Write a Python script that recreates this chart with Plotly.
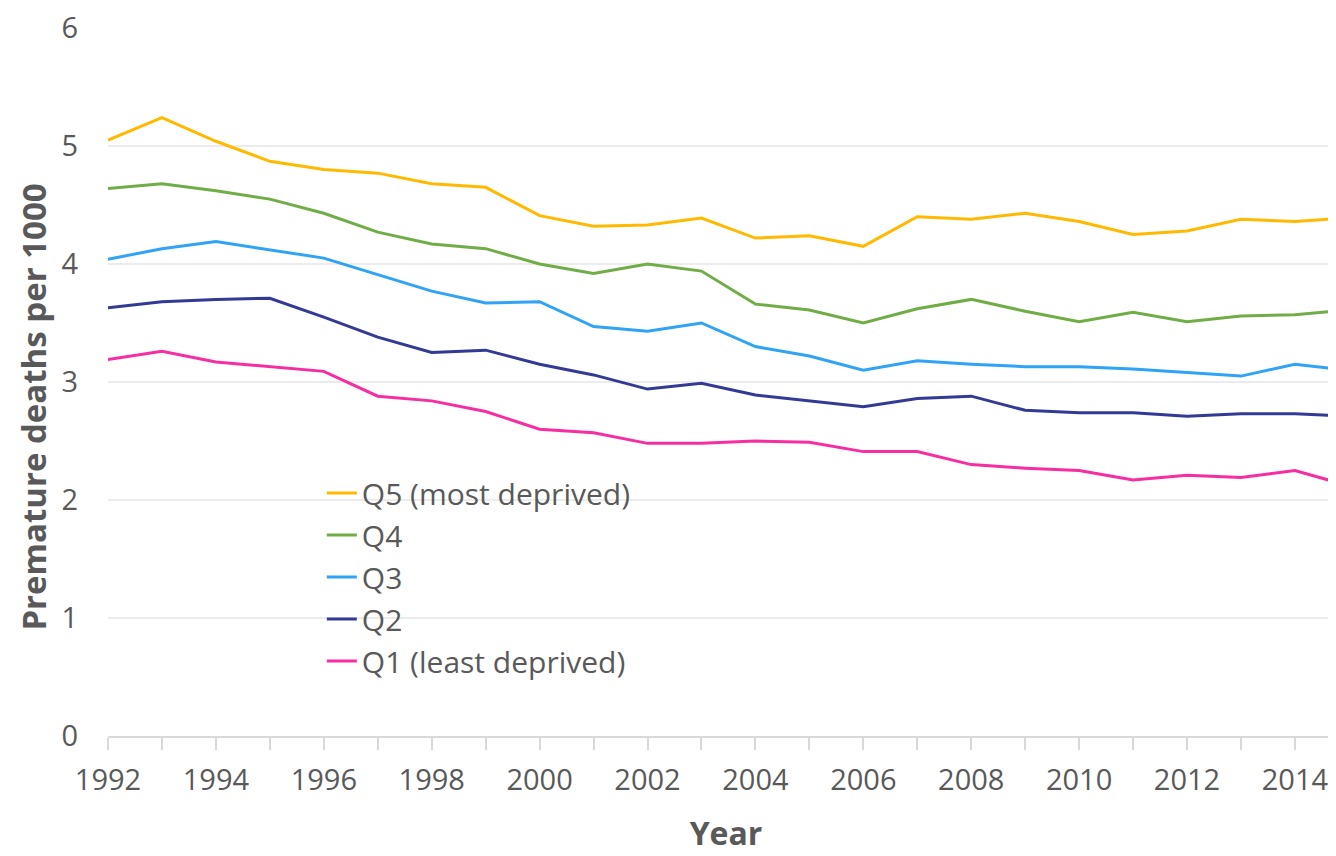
import plotly.graph_objects as go

years = list(range(1992, 2016))

q5 = [5.05, 5.24, 5.04, 4.87, 4.80, 4.77, 4.68, 4.65, 4.41, 4.32, 4.33, 4.39,
      4.22, 4.24, 4.15, 4.40, 4.38, 4.43, 4.36, 4.25, 4.28, 4.38, 4.36, 4.39]
q4 = [4.64, 4.68, 4.62, 4.55, 4.43, 4.27, 4.17, 4.13, 4.00, 3.92, 4.00, 3.94,
      3.66, 3.61, 3.50, 3.62, 3.70, 3.60, 3.51, 3.59, 3.51, 3.56, 3.57, 3.61]
q3 = [4.04, 4.13, 4.19, 4.12, 4.05, 3.91, 3.77, 3.67, 3.68, 3.47, 3.43, 3.50,
      3.30, 3.22, 3.10, 3.18, 3.15, 3.13, 3.13, 3.11, 3.08, 3.05, 3.15, 3.10]
q2 = [3.63, 3.68, 3.70, 3.71, 3.55, 3.38, 3.25, 3.27, 3.15, 3.06, 2.94, 2.99,
      2.89, 2.84, 2.79, 2.86, 2.88, 2.76, 2.74, 2.74, 2.71, 2.73, 2.73, 2.71]
q1 = [3.19, 3.26, 3.17, 3.13, 3.09, 2.88, 2.84, 2.75, 2.60, 2.57, 2.48, 2.48,
      2.50, 2.49, 2.41, 2.41, 2.30, 2.27, 2.25, 2.17, 2.21, 2.19, 2.25, 2.12]

series = [
    ("Q5 (most deprived)", q5, "#FFB901"),
    ("Q4", q4, "#70AD47"),
    ("Q3", q3, "#2FA3F6"),
    ("Q2", q2, "#333A96"),
    ("Q1 (least deprived)", q1, "#F72DA2"),
]

fig = go.Figure()
for name, vals, col in series:
    fig.add_trace(go.Scatter(x=years, y=vals, name=name, mode="lines",
                             line=dict(color=col, width=3)))

grey = "#595959"
# page has an 8px body margin, so margins are offset by 8
fig.update_layout(
    width=1336, height=856,
    plot_bgcolor="white", paper_bgcolor="white",
    margin=dict(l=100, r=0, t=20, b=128),
    font=dict(family="Open Sans, sans-serif", color=grey, size=29),
    legend=dict(x=0.173, y=0.38, xanchor="left", yanchor="top",
                bgcolor="rgba(0,0,0,0)", font=dict(size=30, color=grey),
                tracegroupgap=0),
    annotations=[dict(text="<b>Premature deaths per 1000</b>", textangle=-90,
                      xref="paper", yref="paper", x=-0.06, y=0.465,
                      xanchor="center", yanchor="middle", showarrow=False,
                      font=dict(size=33, color=grey))],
)
fig.update_xaxes(
    range=[1992, 2014.91], dtick=2, tick0=1992,
    automargin=False,
    showgrid=False, zeroline=False,
    showline=True, linecolor="#d9d9d9", linewidth=2,
    ticks="outside", ticklen=12, tickcolor="#d9d9d9", tickwidth=1.5,
    minor=dict(dtick=1, tick0=1992, ticks="outside", ticklen=12,
               tickcolor="#d9d9d9", tickwidth=1.5, showgrid=False),
    tickfont=dict(size=29, color=grey), ticklabelstandoff=5,
    title=dict(text="<b>Year</b>", font=dict(size=32, color=grey), standoff=26),
)
fig.update_yaxes(
    range=[0, 6], dtick=1, tick0=0,
    automargin=False, ticklabeloverflow="allow",
    showgrid=True, gridcolor="#ececec", gridwidth=1.5,
    zeroline=False, showline=False,
    ticks="", ticklabelstandoff=29,
    tickfont=dict(size=29, color=grey),
)

fig.write_html("out.html")
